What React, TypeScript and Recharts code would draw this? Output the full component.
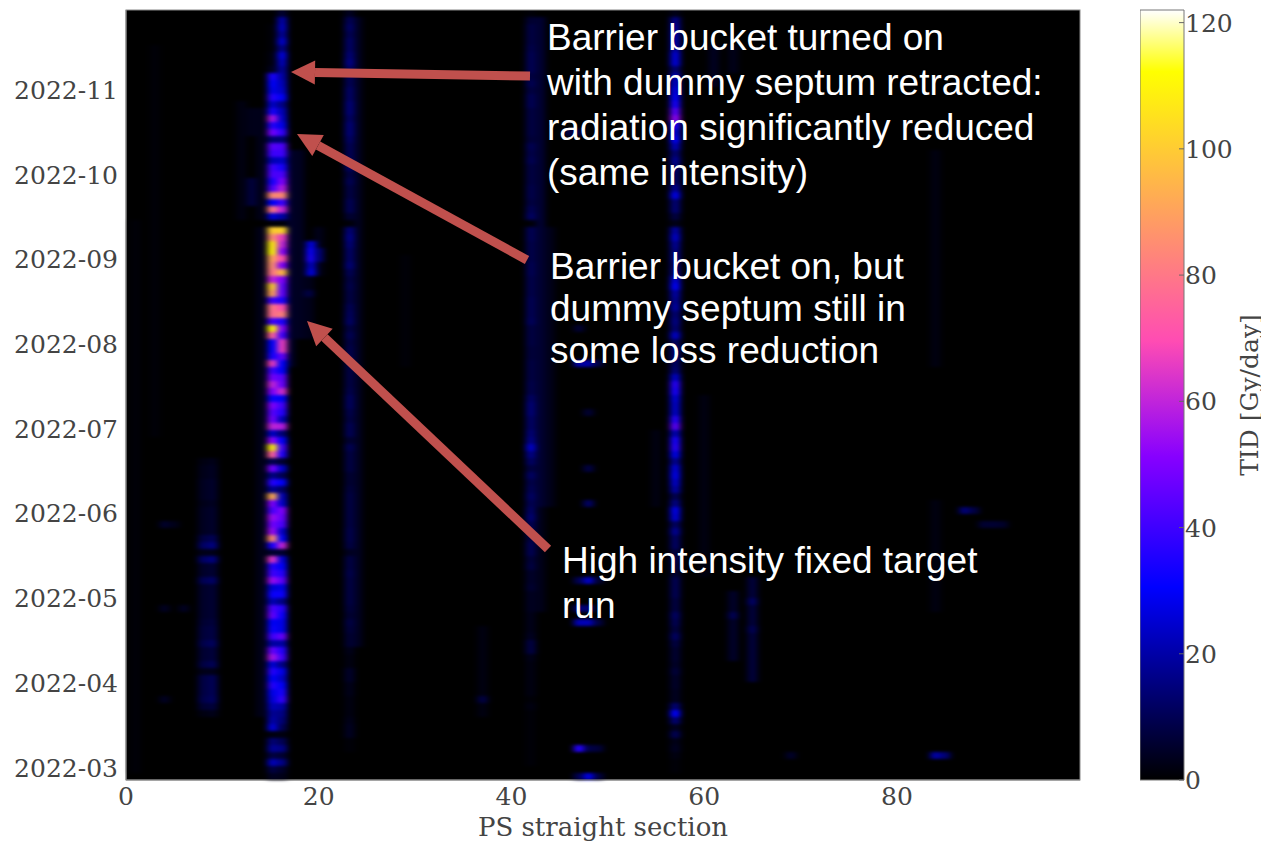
import React from 'react';
import { ScatterChart, Scatter, XAxis, YAxis, ZAxis, CartesianGrid, BarChart, Bar } from 'recharts';

// TID per PS straight section, 110 rows from the newest (top) to the oldest (bottom)
const S15 = [
  0, 0, 1, 1, 1, 1, 2, 2, 4, 34,
  30, 28, 36, 24, 34, 56, 36, 48, 14, 44,
  40, 22, 40, 42, 34, 42, 84, 30, 80, 26,
  1, 100, 85, 108, 110, 90, 85, 80, 60, 100,
  90, 40, 80, 78, 40, 110, 75, 30, 30, 34,
  66, 40, 48, 60, 50, 32, 50, 44, 48, 60,
  24, 52, 108, 75, 10, 48, 16, 36, 18, 92,
  50, 42, 54, 48, 54, 84, 34, 6, 64, 36,
  40, 54, 26, 32, 22, 42, 46, 30, 32, 40,
  20, 46, 56, 26, 36, 30, 36, 28, 26, 22,
  18, 20, 26, 2, 14, 18, 8, 22, 8, 4,
];
const S16 = [
  6, 20, 22, 18, 24, 16, 26, 22, 18, 20,
  22, 24, 30, 16, 22, 24, 28, 38, 14, 42,
  40, 24, 34, 42, 50, 58, 84, 40, 60, 20,
  1, 102, 66, 60, 52, 70, 50, 95, 50, 45,
  45, 35, 70, 82, 35, 50, 40, 66, 66, 45,
  30, 30, 44, 46, 62, 30, 40, 36, 22, 58,
  14, 30, 40, 35, 6, 24, 10, 30, 12, 22,
  24, 50, 46, 42, 24, 30, 60, 6, 26, 30,
  36, 44, 28, 32, 16, 36, 32, 28, 28, 46,
  20, 36, 40, 16, 28, 24, 30, 34, 38, 20,
  16, 14, 10, 2, 10, 16, 6, 16, 5, 3,
];
const S23 = [
  4, 10, 12, 10, 12, 12, 14, 16, 12, 10,
  10, 12, 12, 14, 14, 12, 14, 14, 12, 10,
  10, 10, 12, 8, 10, 8, 8, 10, 10, 6,
  1, 14, 16, 14, 12, 12, 14, 10, 8, 9,
  8, 8, 10, 11, 12, 8, 10, 8, 9, 9,
  8, 8, 8, 8, 9, 11, 11, 9, 8, 10,
  10, 6, 10, 8, 8, 8, 6, 6, 7, 8,
  8, 8, 8, 8, 9, 9, 8, 4, 8, 8,
  9, 8, 8, 8, 8, 7, 6, 8, 7, 6,
  6, 3, 2, 2, 5, 5, 3, 3, 2, 2,
  2, 3, 4, 4, 1, 1, 0, 0, 0, 0,
];
const S42 = [
  1, 6, 8, 8, 8, 9, 10, 10, 10, 8,
  10, 8, 10, 10, 8, 8, 8, 8, 7, 10,
  9, 10, 8, 8, 8, 9, 9, 8, 10, 12,
  1, 10, 10, 9, 9, 9, 10, 10, 9, 9,
  9, 10, 10, 10, 11, 8, 8, 8, 7, 7,
  8, 8, 8, 9, 9, 12, 14, 14, 12, 12,
  14, 16, 24, 16, 12, 8, 12, 9, 10, 12,
  10, 12, 14, 10, 9, 8, 10, 10, 7, 8,
  5, 5, 6, 4, 4, 4, 3, 3, 3, 4,
  8, 4, 3, 2, 2, 2, 2, 2, 1, 2,
  1, 1, 1, 1, 1, 1, 1, 1, 0, 0,
];
const S57 = [
  3, 16, 18, 20, 20, 20, 26, 26, 14, 22,
  24, 28, 30, 34, 44, 52, 34, 26, 30, 22,
  14, 18, 14, 12, 12, 18, 28, 14, 14, 8,
  3, 20, 24, 18, 16, 16, 14, 16, 26, 30,
  20, 18, 20, 14, 16, 14, 24, 12, 14, 14,
  12, 14, 24, 36, 34, 26, 24, 24, 36, 44,
  22, 34, 36, 28, 18, 26, 28, 24, 20, 10,
  16, 28, 26, 12, 18, 12, 12, 8, 10, 8,
  6, 10, 10, 10, 8, 8, 12, 10, 8, 12,
  8, 6, 6, 5, 7, 5, 5, 4, 4, 14,
  30, 14, 4, 10, 3, 4, 2, 1, 1, 0,
];
// these two only show up from row 64 down to row 100
const S8_FROM_64 = [2, 3, 3, 4, 4, 4, 3, 4, 4, 4, 4, 8, 12, 3, 12, 5, 5, 10, 5, 5, 5, 5, 5, 6, 7, 7, 9, 6, 6, 8, 3, 8, 8, 8, 9, 6, 2];
const S9_FROM_64 = [3, 4, 4, 5, 5, 5, 4, 5, 5, 5, 5, 10, 15, 3, 15, 6, 6, 12, 6, 6, 6, 6, 6, 7, 8, 8, 11, 7, 7, 10, 3, 10, 10, 10, 11, 7, 3];

// [section, first row, last row, TID] for the faint vertical stripes
const FAINT_RUNS = [
  [1, 30, 108, 1], [3, 5, 60, 1], [13, 14, 17, 3], [13, 24, 27, 7], [12, 13, 29, 2], [14, 14, 29, 3],
  [14, 31, 100, 3], [17, 20, 50, 5], [18, 20, 46, 4], [19, 38, 46, 3], [20, 31, 37, 3], [24, 1, 90, 4],
  [29, 35, 50, 1], [37, 88, 100, 2], [43, 1, 70, 6], [43, 71, 85, 3], [44, 31, 70, 3], [55, 60, 70, 2],
  [60, 55, 80, 2], [61, 5, 10, 4], [63, 5, 8, 3], [63, 83, 92, 5], [65, 81, 95, 7], [84, 20, 50, 2], [84, 70, 85, 2],
];
// [section, row, TID] for the isolated blobs
const SPOTS = [
  [19.2, 33, 26], [19.2, 34, 32], [19.2, 35, 34], [19.2, 36, 22], [19.2, 37, 26], [20, 34, 14], [20, 35, 14], [19, 40, 8],
  [47, 105, 36], [48, 105, 9], [49, 105, 7], [48, 109, 28], [47, 109, 10], [49, 109, 8],
  [48, 81, 24], [47, 81, 10], [49, 81, 6], [47, 85, 14], [48, 85, 14], [47, 87, 22], [48, 87, 22], [49, 87, 8],
  [48, 70, 12], [48, 65, 8], [48, 57, 6], [47, 50, 20], [48, 50, 20], [49, 50, 8], [47, 45, 6], [46, 17, 8], [47, 17, 8],
  [63, 86, 10], [65, 84, 12], [65, 88, 10], [37, 98, 8], [84, 106, 20], [85, 106, 14], [87, 71, 14], [88, 71, 8],
  [89, 73, 6], [90, 73, 6], [91, 73, 5], [69, 106, 5], [4, 85, 4], [6, 85, 4], [4, 98, 4], [4, 73, 5], [5, 73, 3], [42, 91, 8],
];

const X_TICKS = [0, 20, 40, 60, 80];
const MONTH_ROWS = [11.43, 23.57, 35.57, 47.71, 59.86, 71.86, 84, 96.14, 108.29];
const MONTH_LABELS = ['2022-11', '2022-10', '2022-09', '2022-08', '2022-07', '2022-06', '2022-05', '2022-04', '2022-03'];
const CBAR_TICKS = [0, 20, 40, 60, 80, 100, 120];
const TID_MAX = 122;

const LINES_TOP = ['Barrier bucket turned on', 'with dummy septum retracted:', 'radiation significantly reduced', '(same intensity)'];
const LINES_MID = ['Barrier bucket on, but', 'dummy septum still in', 'some loss reduction'];
const LINES_LOW = ['High intensity fixed target', 'run'];

// gnuplot2 colour map
const CMAP: [number, number, number, number][] = [
  [0, 0, 0, 0],
  [0.25, 0, 0, 255],
  [0.42, 135, 0, 255],
  [0.57, 255, 76, 179],
  [0.92, 255, 255, 0],
  [1, 255, 255, 255],
];
const tidColor = (v: number) => {
  const t = Math.min(v / TID_MAX, 1);
  for (let i = 1; i < CMAP.length; i++) {
    if (t <= CMAP[i][0]) {
      const a = CMAP[i - 1], b = CMAP[i];
      const f = (t - a[0]) / (b[0] - a[0]);
      return `rgb(${a[1] + (b[1] - a[1]) * f},${a[2] + (b[2] - a[2]) * f},${a[3] + (b[3] - a[3]) * f})`;
    }
  }
  return '#fff';
};

const cells: { section: number; row: number; tid: number }[] = [];
const addColumn = (section: number, from: number, values: number[]) =>
  values.forEach((tid, i) => { if (tid > 0) cells.push({ section, row: from + i + 0.5, tid }); });
FAINT_RUNS.forEach(([section, a, b, tid]) => {
  for (let r = a; r <= b; r++) cells.push({ section, row: r + 0.5, tid });
});
addColumn(8, 64, S8_FROM_64);
addColumn(9, 64, S9_FROM_64);
addColumn(15.2, 0, S15);
addColumn(16.2, 0, S16);
addColumn(23.2, 0, S23);
addColumn(42, 0, S42);
addColumn(57, 0, S57);
SPOTS.forEach(([section, row, tid]) => cells.push({ section, row: row + 0.5, tid }));

const CELL_W = 9.64;
const CELL_H = 7;
const HeatCell = (props: any) => (
  <rect x={props.cx - CELL_W / 2} y={props.cy - CELL_H / 2} width={CELL_W} height={CELL_H} fill={tidColor(props.payload.tid)} />
);

const AXIS_FONT = { fontFamily: 'DejaVu Serif', fontSize: 25, fill: '#444' };

const CbarTick = (props: any) => (
  <g>
    <line x1={props.x - 5} x2={props.x} y1={props.y} y2={props.y} stroke="#666" strokeWidth={1} />
    <text x={props.x + 1} y={props.y + 9} {...AXIS_FONT}>{props.payload.value}</text>
  </g>
);

const Arrow = ({ x1, y1, x2, y2 }: { x1: number; y1: number; x2: number; y2: number }) => {
  const len = Math.hypot(x2 - x1, y2 - y1);
  const ux = (x2 - x1) / len, uy = (y2 - y1) / len;
  const bx = x2 - ux * 24, by = y2 - uy * 24;
  const hw = 12;
  return (
    <g fill="#c0504d">
      <line x1={x1} y1={y1} x2={bx} y2={by} stroke="#c0504d" strokeWidth={9} />
      <polygon points={`${x2},${y2} ${bx - uy * hw},${by + ux * hw} ${bx + uy * hw},${by - ux * hw}`} />
    </g>
  );
};

const TextBlock = ({ x, y, step, lines }: { x: number; y: number; step: number; lines: string[] }) => (
  <g fontFamily="Liberation Sans" fontSize={37} fill="#fff">
    {lines.map((l, i) => <text key={l} x={x} y={y + i * step}>{l}</text>)}
  </g>
);

export default function App() {
  return (
    <div className="heat" style={{ position: 'absolute', left: 0, top: 0, width: 1261, height: 842, background: '#fff', overflow: 'hidden' }}>
      <style>{`.heat .recharts-scatter { filter: url(#heat-blur); }`}</style>
      <svg width={0} height={0} style={{ position: 'absolute' }}>
        <filter id="heat-blur" x="-2%" y="-2%" width="104%" height="104%" colorInterpolationFilters="sRGB">
          <feGaussianBlur stdDeviation="3.2 1.5" />
        </filter>
      </svg>

      <div style={{ position: 'absolute', left: 0, top: 0 }}>
        <ScatterChart width={1081} height={842} margin={{ top: 10, right: 1, bottom: 0, left: 0 }}>
          <CartesianGrid fill="#000" horizontal={false} vertical={false} />
          <XAxis
            type="number" dataKey="section" domain={[0, 99]} ticks={X_TICKS} height={62} stroke="#888"
            tickLine={false} tick={AXIS_FONT} tickMargin={1} interval={0}
            label={{ value: 'PS straight section', position: 'insideBottom', offset: 6, style: { ...AXIS_FONT, fontSize: 26 } }}
          />
          <YAxis
            type="number" dataKey="row" domain={[0, 110]} reversed ticks={MONTH_ROWS} width={126} stroke="#888"
            tickLine={false} tick={AXIS_FONT} tickMargin={2} interval={0}
            tickFormatter={(v: number) => MONTH_LABELS[MONTH_ROWS.indexOf(v)]}
          />
          <ZAxis type="number" dataKey="tid" range={[60, 60]} />
          <Scatter data={cells} shape={<HeatCell />} isAnimationActive={false} />
        </ScatterChart>
      </div>

      <div style={{ position: 'absolute', left: 1140, top: 0 }}>
        <BarChart width={121} height={842} data={[{ name: 'TID', top: TID_MAX }]} margin={{ top: 10, right: 0, bottom: 62, left: 0 }} barCategoryGap={0}>
          <defs>
            <linearGradient id="cbar" x1="0" y1="1" x2="0" y2="0">
              {CMAP.map(s => <stop key={s[0]} offset={s[0]} stopColor={`rgb(${s[1]},${s[2]},${s[3]})`} />)}
            </linearGradient>
          </defs>
          <XAxis dataKey="name" hide />
          <YAxis
            orientation="right" type="number" domain={[0, TID_MAX]} ticks={CBAR_TICKS} width={77} axisLine={false}
            tickLine={false} tickSize={0} tickMargin={0} tick={<CbarTick />} interval={0}
            label={{ value: 'TID [Gy/day]', angle: -90, position: 'insideRight', offset: 12, style: { ...AXIS_FONT, fontSize: 25, textAnchor: 'middle' } }}
          />
          <Bar dataKey="top" fill="url(#cbar)" stroke="#777" strokeWidth={1} isAnimationActive={false} />
        </BarChart>
      </div>

      <svg width={1261} height={842} style={{ position: 'absolute', left: 0, top: 0, pointerEvents: 'none' }}>
        <rect x={120} y={0} width={970} height={10} fill="#fff" />
        <rect x={126} y={10} width={954} height={770} fill="none" stroke="#888" strokeWidth={1} />
        <Arrow x1={530} y1={76} x2={291} y2={72} />
        <Arrow x1={527} y1={260} x2={297} y2={134} />
        <Arrow x1={548} y1={549} x2={307} y2={321} />
        <TextBlock x={547} y={50} step={45} lines={LINES_TOP} />
        <TextBlock x={550} y={279} step={42} lines={LINES_MID} />
        <TextBlock x={562} y={573} step={45} lines={LINES_LOW} />
      </svg>
    </div>
  );
}
